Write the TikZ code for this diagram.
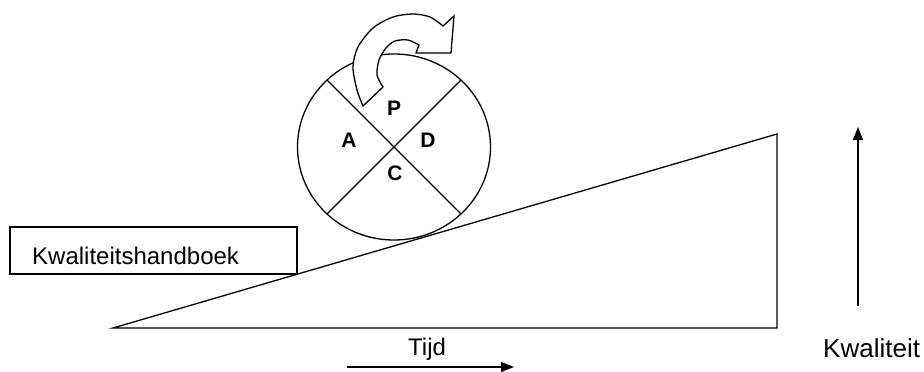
\documentclass[tikz,border=0pt]{standalone}
\usepackage{fontspec}
\setmainfont{Liberation Sans}
\usetikzlibrary{shapes.geometric,arrows.meta}
\begin{document}
\begin{tikzpicture}[x=1pt,y=-1pt,
  outline/.style={draw=black,line width=1.3pt,line join=miter},
  lbl/.style={inner sep=0pt,anchor=base west},
  pd/.style={inner sep=0pt,font=\bfseries\fontsize{21}{24}\selectfont},
  axis/.style={draw=black,line width=1.3pt,-{Triangle[length=13pt,width=10pt]}}]
\useasboundingbox (0,0) rectangle (924,372);
% wedge (triangle)
\coordinate (tl) at (113,328);
\coordinate (tr) at (777,328);
\coordinate (tt) at (777,134);
\draw[outline] (tl) -- (tr) -- (tt) -- cycle;
% handbook box
\node[outline,fill=white,anchor=north west,minimum width=287pt,minimum height=47pt,inner sep=0pt,outer sep=0pt] (hb) at (10,227) {};
\node[lbl,font=\fontsize{24}{28}\selectfont] (hbt) at (32,264) {Kwaliteitshandboek};
% PDCA circle
\node[outline,fill=white,ellipse,minimum width=193pt,minimum height=186pt,inner sep=0pt,outer sep=0pt] (pdca) at (394,147) {};
\draw[outline] (pdca.135) -- (pdca.315);
\draw[outline] (pdca.45) -- (pdca.225);
\node[pd] (P) at (394,108) {P};
\node[pd] (A) at (349,140) {A};
\node[pd] (D) at (428,140) {D};
\node[pd] (C) at (395,173) {C};
% curved arrow
\draw[outline,fill=white] (363,106) -- plot[smooth] coordinates {(383,87) (377,75) (379,60) (386,48) (395,41) (408,40) (419,45)} -- (416,53) -- (451,53) -- (454,16) -- plot[smooth] coordinates {(443,26) (430,17) (413,14) (393,17) (373,28) (358,47) (353,67) (357,90) (363,106)} -- cycle;
% time arrow
\coordinate (t0) at (347,367);
\coordinate (t1) at (514,367);
\draw[axis] (t0) -- (t1);
\node[lbl,font=\fontsize{24}{28}\selectfont] (tijd) at (408,355) {Tijd};
% quality arrow
\coordinate (q0) at (858,306);
\coordinate (q1) at (858,127);
\draw[axis] (q0) -- (q1);
\node[lbl,font=\fontsize{26}{30}\selectfont] (kw) at (823,357) {Kwaliteit};
\end{tikzpicture}
\end{document}
